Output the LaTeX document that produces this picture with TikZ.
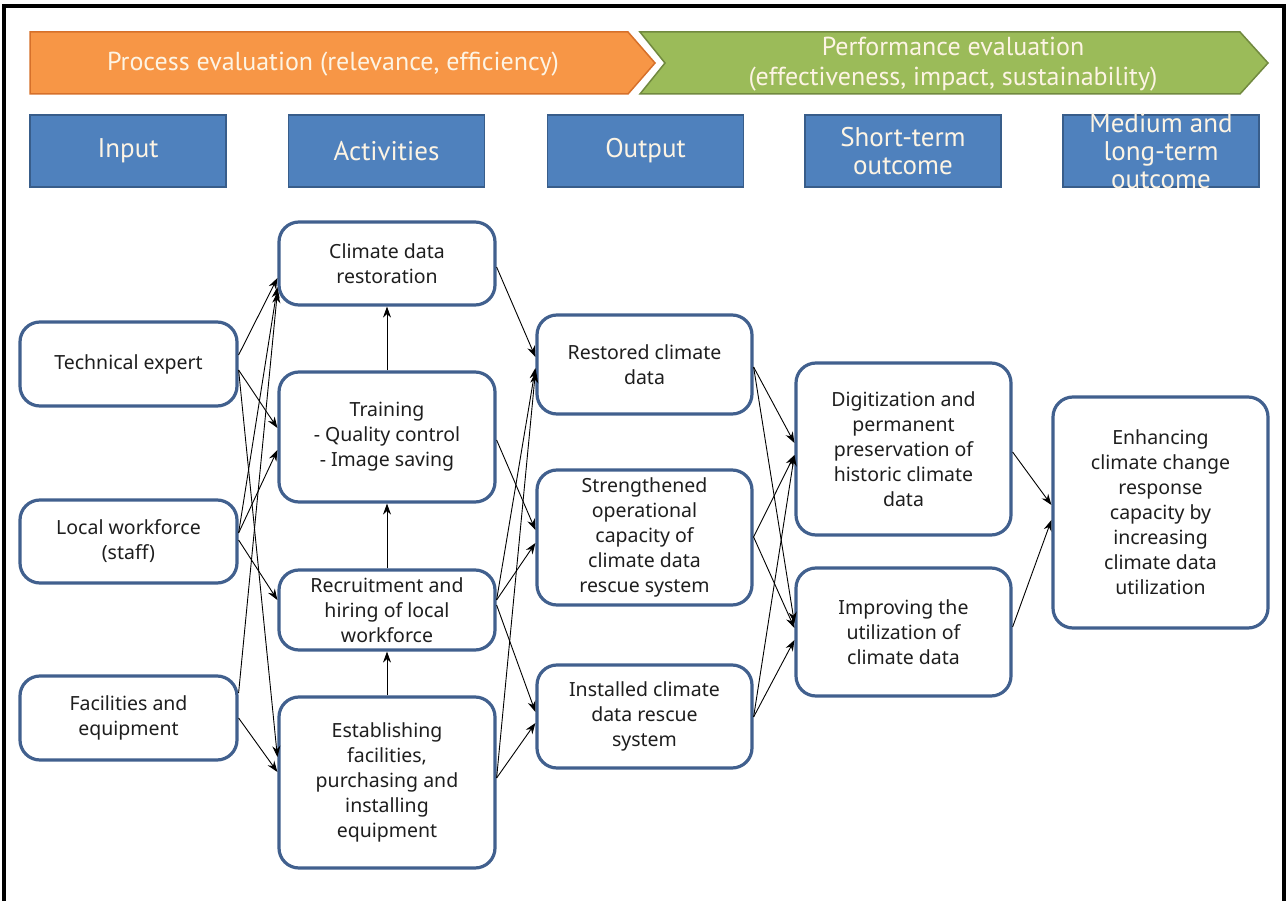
\documentclass[tikz,border=0pt]{standalone}
\usepackage{fontspec}
\setmainfont{Noto Sans}
\newfontfamily\headfont{PT Sans}
\usepackage{xcolor}
\usetikzlibrary{positioning}
\usetikzlibrary{arrows.meta}
\definecolor{boxline}{RGB}{65,96,142}
\definecolor{headblue}{RGB}{79,129,189}
\definecolor{headblueline}{RGB}{56,93,138}
\definecolor{procfill}{RGB}{247,150,70}
\definecolor{procline}{RGB}{214,112,42}
\definecolor{perffill}{RGB}{155,187,89}
\definecolor{perfline}{RGB}{113,137,63}
\definecolor{headtext}{RGB}{253,244,228}
\definecolor{boxtext}{RGB}{30,30,30}
\tikzset{
  box/.style={draw=boxline,line width=3.2pt,rounded corners=20pt,fill=white,
              align=center,inner sep=2pt,text=boxtext,
              font=\fontsize{19.5}{25}\selectfont},
  head/.style={draw=headblueline,fill=headblue,line width=1.5pt,
               minimum width=196pt,minimum height=72pt,text=headtext,align=center,
               font=\headfont\fontsize{27}{28}\selectfont},
  banner/.style={text=headtext,align=center,font=\headfont\fontsize{26}{30}\selectfont}
}

\begin{document}
\begin{tikzpicture}[x=1pt,y=-1pt,->,>={Stealth[length=11pt,width=8pt]},
                    line width=0.9pt]
\useasboundingbox (0,0) rectangle (1288,901);
\draw[-,line width=4pt] (4,901) -- (4,6) -- (1284,6) -- (1284,901);

% evaluation banners
\filldraw[-,draw=procline,fill=procfill,line width=1.5pt]
  (30,32) -- (628,32) -- (655,63) -- (628,94) -- (30,94) -- cycle;
\filldraw[-,draw=perfline,fill=perffill,line width=1.5pt]
  (640,32) -- (1240,32) -- (1268,63) -- (1240,94) -- (640,94) -- (665,63) -- cycle;
\node[banner] (proc) at (333,64) {Process evaluation (relevance, efficiency)};
\node[banner] (perf) at (953,64) {Performance evaluation\\(effectiveness, impact, sustainability)};

% stage headers
\node[head] (hin) at (128,151) {Input};
\node[head] (hact) at (386.5,151) {Activities};
\node[head] (hout) at (645.5,151) {Output};
\node[head] (hst) at (903,151) {Short-term\\outcome};
\node[head,label={[text=headtext,align=center,font=\headfont\fontsize{27}{28}\selectfont]center:{Medium and\\long-term\\outcome}}] (hlt) at (1161,151) {};

% input
\node[box,minimum width=217pt,minimum height=84pt] (in1) at (128.5,364) {Technical expert};
\node[box,minimum width=217pt,minimum height=83pt] (in2) at (128.5,541.5) {Local workforce\\(staff)};
\node[box,minimum width=217pt,minimum height=84pt] (in3) at (128.5,718) {Facilities and\\equipment};

% activities
\node[box,minimum width=216pt,minimum height=83pt] (act1) at (387,263.5) {Climate data\\restoration};
\node[box,minimum width=216pt,minimum height=130pt] (act2) at (387,437) {Training\\- Quality control\\- Image saving};
\node[box,minimum width=216pt,minimum height=80pt] (act3) at (387,610) {Recruitment and\\hiring of local\\workforce};
\node[box,minimum width=216pt,minimum height=171pt] (act4) at (387,782.5) {Establishing\\facilities,\\purchasing and\\installing\\equipment};

% output
\node[box,minimum width=215pt,minimum height=99pt] (out1) at (644.5,364.5) {Restored climate\\data};
\node[box,minimum width=215pt,minimum height=135pt] (out2) at (644.5,537.5) {Strengthened\\operational\\capacity of\\climate data\\rescue system};
\node[box,minimum width=215pt,minimum height=103pt] (out3) at (644.5,716.5) {Installed climate\\data rescue\\system};

% outcomes
\node[box,minimum width=215pt,minimum height=172pt] (st1) at (903.5,449) {Digitization and\\permanent\\preservation of\\historic climate\\data};
\node[box,minimum width=215pt,minimum height=128pt] (st2) at (903.5,632) {Improving the\\utilization of\\climate data};
\node[box,minimum width=215pt,minimum height=231pt] (lt) at (1160.5,512.5) {Enhancing\\climate change\\response\\capacity by\\increasing\\climate data\\utilization};

\path ([yshift=9pt]in1.east) edge ([yshift=-14.5pt]act1.west)
      ([yshift=-6pt]in1.east) edge ([yshift=9pt]act2.west)
      ([yshift=-6pt]in1.east) edge ([yshift=25.5pt]act4.west)
      ([yshift=8.5pt]in2.east) edge ([yshift=-23.5pt]act1.west)
      ([yshift=8.5pt]in2.east) edge ([yshift=-13pt]act2.west)
      ([yshift=1.5pt]in2.east) edge ([yshift=10pt]act3.west)
      ([yshift=25pt]in3.east) edge ([yshift=-28.5pt]act1.west)
      (in3.east) edge ([yshift=10.5pt]act4.west);
\path (act4) edge (act3)
      (act3) edge (act2)
      (act2) edge (act1);
\path ([yshift=-3.5pt]act1.east) edge ([yshift=7.5pt]out1.west)
      ([yshift=-3pt]act2.east) edge ([yshift=7.5pt]out2.west)
      ([yshift=10pt]act3.east) edge ([yshift=-3.5pt]out1.west)
      ([yshift=10pt]act3.east) edge ([yshift=-5.5pt]out2.west)
      ([yshift=5pt]act3.east) edge ([yshift=4.5pt]out3.west)
      ([yshift=4.5pt]act4.east) edge ([yshift=-7.5pt]out1.west)
      ([yshift=4.5pt]act4.east) edge ([yshift=-6.5pt]out3.west);
\path ([yshift=-2.5pt]out1.east) edge ([yshift=6pt]st1.west)
      ([yshift=-2.5pt]out1.east) edge ([yshift=9pt]st2.west)
      ([yshift=0.5pt]out2.east) edge ([yshift=-6pt]st1.west)
      ([yshift=0.5pt]out2.east) edge ([yshift=4pt]st2.west)
      ([yshift=-0.5pt]out3.east) edge ([yshift=-6pt]st1.west)
      ([yshift=-0.5pt]out3.east) edge ([yshift=-8pt]st2.west)
      ([yshift=-3pt]st1.east) edge ([yshift=7.5pt]lt.west)
      ([yshift=5pt]st2.east) edge ([yshift=-7.5pt]lt.west);
\end{tikzpicture}
\end{document}
